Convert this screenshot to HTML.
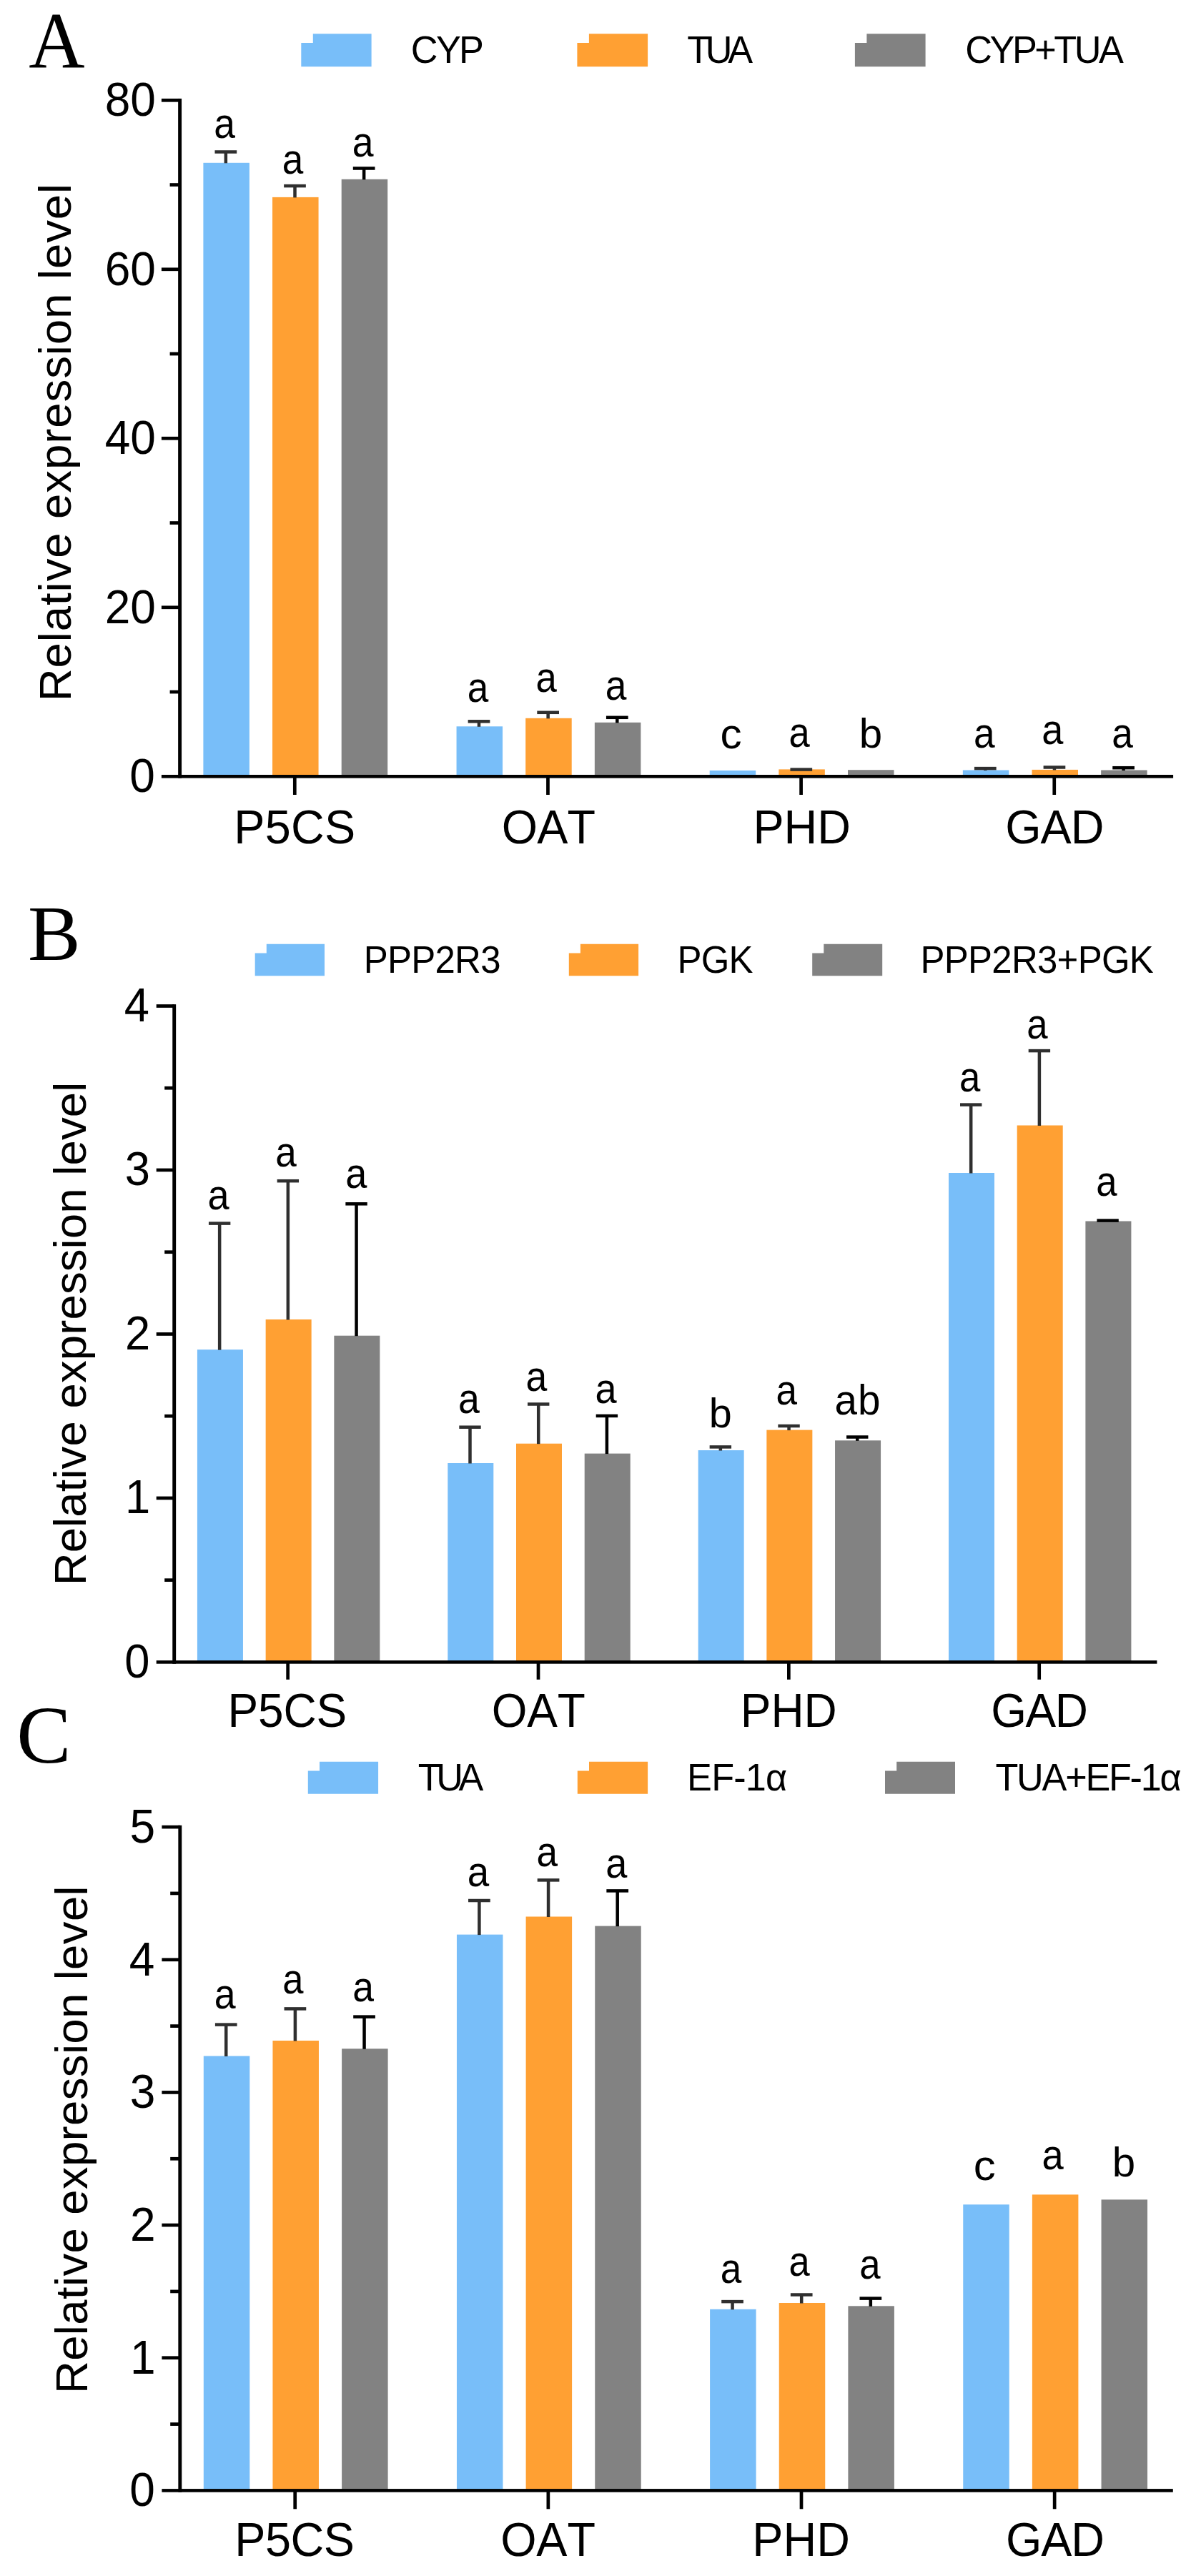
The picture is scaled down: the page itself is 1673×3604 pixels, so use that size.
<!DOCTYPE html>
<html lang="en"><head><meta charset="utf-8"><title>Relative expression level</title>
<style>
html,body{margin:0;padding:0;background:#fff}
svg{display:block}
text{fill:#000;font-kerning:none}
.sans{font-family:"Liberation Sans",Arial,Helvetica,sans-serif}
.serif{font-family:"Liberation Serif","Times New Roman",Times,serif}
</style></head><body>
<svg width="1673" height="3604" viewBox="0 0 1673 3604" shape-rendering="geometricPrecision">
<rect width="1673" height="3604" fill="#fff"/>
<rect x="284.40" y="227.80" width="64.50" height="858.50" fill="#78bef9"/>
<rect x="313.60" y="212.50" width="4.50" height="15.80" fill="#2f2f2f"/>
<rect x="300.50" y="210.25" width="30.70" height="4.50" fill="#2f2f2f"/>
<rect x="381.05" y="275.90" width="64.50" height="810.40" fill="#ffa033"/>
<rect x="410.25" y="260.10" width="4.50" height="16.30" fill="#2f2f2f"/>
<rect x="397.15" y="257.85" width="30.70" height="4.50" fill="#2f2f2f"/>
<rect x="477.70" y="250.80" width="64.50" height="835.50" fill="#828282"/>
<rect x="506.90" y="235.50" width="4.50" height="15.80" fill="#000"/>
<rect x="493.80" y="233.25" width="30.70" height="4.50" fill="#000"/>
<rect x="638.55" y="1016.30" width="64.50" height="70.00" fill="#78bef9"/>
<rect x="667.75" y="1009.30" width="4.50" height="7.50" fill="#2f2f2f"/>
<rect x="654.65" y="1007.05" width="30.70" height="4.50" fill="#2f2f2f"/>
<rect x="735.20" y="1004.80" width="64.50" height="81.50" fill="#ffa033"/>
<rect x="764.40" y="996.80" width="4.50" height="8.50" fill="#2f2f2f"/>
<rect x="751.30" y="994.55" width="30.70" height="4.50" fill="#2f2f2f"/>
<rect x="831.85" y="1010.80" width="64.50" height="75.50" fill="#828282"/>
<rect x="861.05" y="1003.80" width="4.50" height="7.50" fill="#000"/>
<rect x="847.95" y="1001.55" width="30.70" height="4.50" fill="#000"/>
<rect x="992.70" y="1078.00" width="64.50" height="8.30" fill="#78bef9"/>
<rect x="1089.35" y="1076.40" width="64.50" height="9.90" fill="#ffa033"/>
<rect x="1105.45" y="1074.35" width="30.70" height="4.50" fill="#2f2f2f"/>
<rect x="1186.00" y="1077.20" width="64.50" height="9.10" fill="#828282"/>
<rect x="1346.85" y="1077.50" width="64.50" height="8.80" fill="#78bef9"/>
<rect x="1376.05" y="1075.10" width="4.50" height="2.90" fill="#2f2f2f"/>
<rect x="1362.95" y="1072.85" width="30.70" height="4.50" fill="#2f2f2f"/>
<rect x="1443.50" y="1076.90" width="64.50" height="9.40" fill="#ffa033"/>
<rect x="1472.70" y="1073.50" width="4.50" height="3.90" fill="#2f2f2f"/>
<rect x="1459.60" y="1071.25" width="30.70" height="4.50" fill="#2f2f2f"/>
<rect x="1540.15" y="1077.50" width="64.50" height="8.80" fill="#828282"/>
<rect x="1569.35" y="1074.20" width="4.50" height="3.80" fill="#000"/>
<rect x="1556.25" y="1071.95" width="30.70" height="4.50" fill="#000"/>
<rect x="249.15" y="137.95" width="4.90" height="950.70" fill="#000"/>
<rect x="225.90" y="1084.00" width="1415.20" height="4.60" fill="#000"/>
<text class="sans" transform="translate(181.16,1108.40) scale(0.9550,1)" font-size="67.10">0</text>
<rect x="237.60" y="965.70" width="14.00" height="4.70" fill="#000"/>
<rect x="225.90" y="847.45" width="25.70" height="4.70" fill="#000"/>
<text class="sans" transform="translate(146.63,871.90) scale(0.9550,1)" font-size="67.10">20</text>
<rect x="237.60" y="729.20" width="14.00" height="4.70" fill="#000"/>
<rect x="225.90" y="610.95" width="25.70" height="4.70" fill="#000"/>
<text class="sans" transform="translate(146.63,635.40) scale(0.9550,1)" font-size="67.10">40</text>
<rect x="237.60" y="492.70" width="14.00" height="4.70" fill="#000"/>
<rect x="225.90" y="374.45" width="25.70" height="4.70" fill="#000"/>
<text class="sans" transform="translate(146.63,398.90) scale(0.9550,1)" font-size="67.10">60</text>
<rect x="237.60" y="256.20" width="14.00" height="4.70" fill="#000"/>
<rect x="225.90" y="137.95" width="25.70" height="4.70" fill="#000"/>
<text class="sans" transform="translate(146.63,162.40) scale(0.9550,1)" font-size="67.10">80</text>
<rect x="409.95" y="1086.30" width="4.70" height="25.70" fill="#000"/>
<rect x="764.10" y="1086.30" width="4.70" height="25.70" fill="#000"/>
<rect x="1118.25" y="1086.30" width="4.70" height="25.70" fill="#000"/>
<rect x="1472.40" y="1086.30" width="4.70" height="25.70" fill="#000"/>
<text class="sans" transform="translate(327.29,1180.20) scale(0.9600,1)" font-size="67.40" letter-spacing="0.295">P5CS</text>
<text class="sans" transform="translate(701.64,1180.20) scale(0.9600,1)" font-size="67.40" letter-spacing="-0.813">OAT</text>
<text class="sans" transform="translate(1053.39,1180.20) scale(0.9600,1)" font-size="67.40" letter-spacing="-0.004">PHD</text>
<text class="sans" transform="translate(1406.15,1180.20) scale(0.9600,1)" font-size="67.40" letter-spacing="-0.970">GAD</text>
<text class="sans" transform="translate(299.23,193.20) scale(0.9074,1)" font-size="59.00">a</text>
<text class="sans" transform="translate(394.74,243.00) scale(0.9008,1)" font-size="59.00">a</text>
<text class="sans" transform="translate(492.73,218.60) scale(0.9074,1)" font-size="59.00">a</text>
<text class="sans" transform="translate(653.64,982.00) scale(0.9008,1)" font-size="59.00">a</text>
<text class="sans" transform="translate(749.46,967.70) scale(0.8942,1)" font-size="59.00">a</text>
<text class="sans" transform="translate(846.73,978.70) scale(0.9041,1)" font-size="59.00">a</text>
<text class="sans" transform="translate(1007.54,1046.70) scale(1.0221,1)" font-size="59.00">c</text>
<text class="sans" transform="translate(1103.47,1045.00) scale(0.8909,1)" font-size="59.00">a</text>
<text class="sans" transform="translate(1201.74,1045.60) scale(0.9875,0.965)" font-size="59.00">b</text>
<text class="sans" transform="translate(1362.03,1045.50) scale(0.9041,1)" font-size="59.00">a</text>
<text class="sans" transform="translate(1457.30,1040.80) scale(0.9173,1)" font-size="59.00">a</text>
<text class="sans" transform="translate(1555.33,1045.50) scale(0.9041,1)" font-size="59.00">a</text>
<path d="M421.30 60.10H437.80V47.30H519.60V93.20H421.30Z" fill="#78bef9"/>
<path d="M807.40 60.10H823.90V47.30H906.10V93.20H807.40Z" fill="#ffa033"/>
<path d="M1195.90 60.10H1212.40V47.30H1294.60V93.20H1195.90Z" fill="#828282"/>
<text class="sans" transform="translate(574.85,88.00) scale(0.9600,1)" font-size="54.40" letter-spacing="-2.747">CYP</text>
<text class="sans" transform="translate(961.23,88.00) scale(0.9600,1)" font-size="54.40" letter-spacing="-6.548">TUA</text>
<text class="sans" transform="translate(1350.35,88.00) scale(0.9600,1)" font-size="54.40" letter-spacing="-3.606">CYP+TUA</text>
<text class="sans" transform="translate(99.20,981.21) rotate(-90) scale(1.0000,1)" font-size="63.50" letter-spacing="0.916">Relative expression level</text>
<text class="serif" transform="translate(40.24,95.45) scale(0.9687,1)" font-size="112.00">A</text>
<rect x="275.95" y="1888.20" width="64.00" height="437.20" fill="#78bef9"/>
<rect x="304.90" y="1711.60" width="4.50" height="177.10" fill="#2f2f2f"/>
<rect x="291.95" y="1709.35" width="30.40" height="4.50" fill="#2f2f2f"/>
<rect x="371.65" y="1846.00" width="64.00" height="479.40" fill="#ffa033"/>
<rect x="400.60" y="1652.20" width="4.50" height="194.30" fill="#2f2f2f"/>
<rect x="387.65" y="1649.95" width="30.40" height="4.50" fill="#2f2f2f"/>
<rect x="467.35" y="1868.70" width="64.00" height="456.70" fill="#828282"/>
<rect x="496.30" y="1684.30" width="4.50" height="184.90" fill="#000"/>
<rect x="483.35" y="1682.05" width="30.40" height="4.50" fill="#000"/>
<rect x="626.30" y="2047.00" width="64.00" height="278.40" fill="#78bef9"/>
<rect x="655.25" y="1996.70" width="4.50" height="50.80" fill="#2f2f2f"/>
<rect x="642.30" y="1994.45" width="30.40" height="4.50" fill="#2f2f2f"/>
<rect x="722.00" y="2019.70" width="64.00" height="305.70" fill="#ffa033"/>
<rect x="750.95" y="1964.50" width="4.50" height="55.70" fill="#2f2f2f"/>
<rect x="738.00" y="1962.25" width="30.40" height="4.50" fill="#2f2f2f"/>
<rect x="817.70" y="2033.60" width="64.00" height="291.80" fill="#828282"/>
<rect x="846.65" y="1980.90" width="4.50" height="53.20" fill="#000"/>
<rect x="833.70" y="1978.65" width="30.40" height="4.50" fill="#000"/>
<rect x="976.65" y="2029.00" width="64.00" height="296.40" fill="#78bef9"/>
<rect x="1005.60" y="2024.40" width="4.50" height="5.10" fill="#2f2f2f"/>
<rect x="992.65" y="2022.15" width="30.40" height="4.50" fill="#2f2f2f"/>
<rect x="1072.35" y="2000.60" width="64.00" height="324.80" fill="#ffa033"/>
<rect x="1101.30" y="1995.00" width="4.50" height="6.10" fill="#2f2f2f"/>
<rect x="1088.35" y="1992.75" width="30.40" height="4.50" fill="#2f2f2f"/>
<rect x="1168.05" y="2015.30" width="64.00" height="310.10" fill="#828282"/>
<rect x="1197.00" y="2010.50" width="4.50" height="5.30" fill="#000"/>
<rect x="1184.05" y="2008.25" width="30.40" height="4.50" fill="#000"/>
<rect x="1327.00" y="1641.00" width="64.00" height="684.40" fill="#78bef9"/>
<rect x="1355.95" y="1545.60" width="4.50" height="95.90" fill="#2f2f2f"/>
<rect x="1343.00" y="1543.35" width="30.40" height="4.50" fill="#2f2f2f"/>
<rect x="1422.70" y="1574.50" width="64.00" height="750.90" fill="#ffa033"/>
<rect x="1451.65" y="1470.10" width="4.50" height="104.90" fill="#2f2f2f"/>
<rect x="1438.70" y="1467.85" width="30.40" height="4.50" fill="#2f2f2f"/>
<rect x="1518.40" y="1708.50" width="64.00" height="616.90" fill="#828282"/>
<rect x="1534.40" y="1705.35" width="30.40" height="4.50" fill="#000"/>
<rect x="241.25" y="1405.15" width="4.90" height="922.60" fill="#000"/>
<rect x="218.70" y="2323.10" width="1399.70" height="4.60" fill="#000"/>
<text class="sans" transform="translate(174.36,2346.70) scale(0.9550,1)" font-size="66.30">0</text>
<rect x="230.20" y="2208.31" width="13.50" height="4.70" fill="#000"/>
<rect x="218.70" y="2093.58" width="25.00" height="4.70" fill="#000"/>
<text class="sans" transform="translate(174.98,2117.23) scale(0.9550,1)" font-size="66.30">1</text>
<rect x="230.20" y="1978.84" width="13.50" height="4.70" fill="#000"/>
<rect x="218.70" y="1864.10" width="25.00" height="4.70" fill="#000"/>
<text class="sans" transform="translate(175.07,1887.75) scale(0.9550,1)" font-size="66.30">2</text>
<rect x="230.20" y="1749.36" width="13.50" height="4.70" fill="#000"/>
<rect x="218.70" y="1634.62" width="25.00" height="4.70" fill="#000"/>
<text class="sans" transform="translate(174.67,1658.27) scale(0.9550,1)" font-size="66.30">3</text>
<rect x="230.20" y="1519.89" width="13.50" height="4.70" fill="#000"/>
<rect x="218.70" y="1405.15" width="25.00" height="4.70" fill="#000"/>
<text class="sans" transform="translate(173.74,1428.80) scale(0.9550,1)" font-size="66.30">4</text>
<rect x="400.30" y="2325.40" width="4.70" height="24.40" fill="#000"/>
<rect x="750.65" y="2325.40" width="4.70" height="24.40" fill="#000"/>
<rect x="1101.00" y="2325.40" width="4.70" height="24.40" fill="#000"/>
<rect x="1451.35" y="2325.40" width="4.70" height="24.40" fill="#000"/>
<text class="sans" transform="translate(318.56,2416.30) scale(0.9600,1)" font-size="66.60" letter-spacing="-0.118">P5CS</text>
<text class="sans" transform="translate(687.87,2416.30) scale(0.9600,1)" font-size="66.60" letter-spacing="-0.227">OAT</text>
<text class="sans" transform="translate(1035.86,2416.30) scale(0.9600,1)" font-size="66.60" letter-spacing="-0.045">PHD</text>
<text class="sans" transform="translate(1386.18,2416.30) scale(0.9600,1)" font-size="66.60" letter-spacing="-1.497">GAD</text>
<text class="sans" transform="translate(290.50,1691.50) scale(0.9173,1)" font-size="59.00">a</text>
<text class="sans" transform="translate(385.24,1632.10) scale(0.9008,1)" font-size="59.00">a</text>
<text class="sans" transform="translate(483.20,1662.10) scale(0.9173,1)" font-size="59.00">a</text>
<text class="sans" transform="translate(641.02,1977.40) scale(0.9107,1)" font-size="59.00">a</text>
<text class="sans" transform="translate(735.53,1945.50) scale(0.9074,1)" font-size="59.00">a</text>
<text class="sans" transform="translate(832.60,1962.90) scale(0.9173,1)" font-size="59.00">a</text>
<text class="sans" transform="translate(991.79,1997.40) scale(0.9762,0.965)" font-size="59.00">b</text>
<text class="sans" transform="translate(1085.54,1965.20) scale(0.9008,1)" font-size="59.00">a</text>
<text class="sans" transform="translate(1167.49,1978.60) scale(0.9600,1)" font-size="59.00" letter-spacing="1.025">ab</text>
<text class="sans" transform="translate(1341.96,1526.60) scale(0.8942,1)" font-size="59.00">a</text>
<text class="sans" transform="translate(1436.26,1453.10) scale(0.8942,1)" font-size="59.00">a</text>
<text class="sans" transform="translate(1533.16,1673.40) scale(0.8942,1)" font-size="59.00">a</text>
<path d="M356.70 1333.40H372.80V1320.70H454.00V1365.20H356.70Z" fill="#78bef9"/>
<path d="M795.80 1333.40H811.90V1320.70H893.10V1365.20H795.80Z" fill="#ffa033"/>
<path d="M1136.20 1333.40H1152.30V1320.70H1234.20V1365.20H1136.20Z" fill="#828282"/>
<text class="sans" transform="translate(508.82,1360.50) scale(0.9600,1)" font-size="53.10" letter-spacing="-0.790">PPP2R3</text>
<text class="sans" transform="translate(947.62,1360.50) scale(0.9600,1)" font-size="53.10" letter-spacing="-0.884">PGK</text>
<text class="sans" transform="translate(1287.62,1360.50) scale(0.9600,1)" font-size="53.10" letter-spacing="-0.773">PPP2R3+PGK</text>
<text class="sans" transform="translate(120.40,2218.31) rotate(-90) scale(1.0000,1)" font-size="63.50" letter-spacing="0.095">Relative expression level</text>
<text class="serif" transform="translate(38.92,1342.90) scale(1.0091,1)" font-size="109.30">B</text>
<rect x="284.80" y="2876.50" width="64.50" height="607.90" fill="#78bef9"/>
<rect x="314.00" y="2832.60" width="4.50" height="44.40" fill="#2f2f2f"/>
<rect x="300.90" y="2830.35" width="30.70" height="4.50" fill="#2f2f2f"/>
<rect x="381.45" y="2855.00" width="64.50" height="629.40" fill="#ffa033"/>
<rect x="410.65" y="2810.40" width="4.50" height="45.10" fill="#2f2f2f"/>
<rect x="397.55" y="2808.15" width="30.70" height="4.50" fill="#2f2f2f"/>
<rect x="478.10" y="2866.30" width="64.50" height="618.10" fill="#828282"/>
<rect x="507.30" y="2821.60" width="4.50" height="45.20" fill="#000"/>
<rect x="494.20" y="2819.35" width="30.70" height="4.50" fill="#000"/>
<rect x="638.95" y="2706.60" width="64.50" height="777.80" fill="#78bef9"/>
<rect x="668.15" y="2659.00" width="4.50" height="48.10" fill="#2f2f2f"/>
<rect x="655.05" y="2656.75" width="30.70" height="4.50" fill="#2f2f2f"/>
<rect x="735.60" y="2681.50" width="64.50" height="802.90" fill="#ffa033"/>
<rect x="764.80" y="2630.40" width="4.50" height="51.60" fill="#2f2f2f"/>
<rect x="751.70" y="2628.15" width="30.70" height="4.50" fill="#2f2f2f"/>
<rect x="832.25" y="2694.60" width="64.50" height="789.80" fill="#828282"/>
<rect x="861.45" y="2645.40" width="4.50" height="49.70" fill="#000"/>
<rect x="848.35" y="2643.15" width="30.70" height="4.50" fill="#000"/>
<rect x="993.10" y="3230.80" width="64.50" height="253.60" fill="#78bef9"/>
<rect x="1022.30" y="3220.10" width="4.50" height="11.20" fill="#2f2f2f"/>
<rect x="1009.20" y="3217.85" width="30.70" height="4.50" fill="#2f2f2f"/>
<rect x="1089.75" y="3222.00" width="64.50" height="262.40" fill="#ffa033"/>
<rect x="1118.95" y="3210.50" width="4.50" height="12.00" fill="#2f2f2f"/>
<rect x="1105.85" y="3208.25" width="30.70" height="4.50" fill="#2f2f2f"/>
<rect x="1186.40" y="3226.30" width="64.50" height="258.10" fill="#828282"/>
<rect x="1215.60" y="3215.60" width="4.50" height="11.20" fill="#000"/>
<rect x="1202.50" y="3213.35" width="30.70" height="4.50" fill="#000"/>
<rect x="1347.25" y="3084.30" width="64.50" height="400.10" fill="#78bef9"/>
<rect x="1443.90" y="3070.40" width="64.50" height="414.00" fill="#ffa033"/>
<rect x="1540.55" y="3077.40" width="64.50" height="407.00" fill="#828282"/>
<rect x="249.35" y="2553.75" width="4.90" height="933.00" fill="#000"/>
<rect x="226.40" y="3482.10" width="1414.40" height="4.60" fill="#000"/>
<text class="sans" transform="translate(181.36,3506.30) scale(0.9550,1)" font-size="67.10">0</text>
<rect x="238.20" y="3389.22" width="13.60" height="4.70" fill="#000"/>
<rect x="226.40" y="3296.39" width="25.40" height="4.70" fill="#000"/>
<text class="sans" transform="translate(181.99,3320.64) scale(0.9550,1)" font-size="67.10">1</text>
<rect x="238.20" y="3203.56" width="13.60" height="4.70" fill="#000"/>
<rect x="226.40" y="3110.73" width="25.40" height="4.70" fill="#000"/>
<text class="sans" transform="translate(182.08,3134.98) scale(0.9550,1)" font-size="67.10">2</text>
<rect x="238.20" y="3017.90" width="13.60" height="4.70" fill="#000"/>
<rect x="226.40" y="2925.07" width="25.40" height="4.70" fill="#000"/>
<text class="sans" transform="translate(181.68,2949.32) scale(0.9550,1)" font-size="67.10">3</text>
<rect x="238.20" y="2832.24" width="13.60" height="4.70" fill="#000"/>
<rect x="226.40" y="2739.41" width="25.40" height="4.70" fill="#000"/>
<text class="sans" transform="translate(180.74,2763.66) scale(0.9550,1)" font-size="67.10">4</text>
<rect x="238.20" y="2646.58" width="13.60" height="4.70" fill="#000"/>
<rect x="226.40" y="2553.75" width="25.40" height="4.70" fill="#000"/>
<text class="sans" transform="translate(181.55,2578.00) scale(0.9550,1)" font-size="67.10">5</text>
<rect x="410.35" y="3484.40" width="4.70" height="25.90" fill="#000"/>
<rect x="764.50" y="3484.40" width="4.70" height="25.90" fill="#000"/>
<rect x="1118.65" y="3484.40" width="4.70" height="25.90" fill="#000"/>
<rect x="1472.80" y="3484.40" width="4.70" height="25.90" fill="#000"/>
<text class="sans" transform="translate(328.19,3576.20) scale(0.9600,1)" font-size="67.40" letter-spacing="-0.399">P5CS</text>
<text class="sans" transform="translate(700.14,3576.20) scale(0.9600,1)" font-size="67.40" letter-spacing="-0.083">OAT</text>
<text class="sans" transform="translate(1052.29,3576.20) scale(0.9600,1)" font-size="67.40" letter-spacing="0.048">PHD</text>
<text class="sans" transform="translate(1406.95,3576.20) scale(0.9600,1)" font-size="67.40" letter-spacing="-1.074">GAD</text>
<text class="sans" transform="translate(299.72,2809.50) scale(0.9107,1)" font-size="59.00">a</text>
<text class="sans" transform="translate(395.27,2789.20) scale(0.8909,1)" font-size="59.00">a</text>
<text class="sans" transform="translate(493.23,2799.90) scale(0.9074,1)" font-size="59.00">a</text>
<text class="sans" transform="translate(653.78,2639.40) scale(0.9272,1)" font-size="59.00">a</text>
<text class="sans" transform="translate(750.44,2611.30) scale(0.9008,1)" font-size="59.00">a</text>
<text class="sans" transform="translate(847.30,2627.40) scale(0.9173,1)" font-size="59.00">a</text>
<text class="sans" transform="translate(1007.84,3193.60) scale(0.9008,1)" font-size="59.00">a</text>
<text class="sans" transform="translate(1103.47,3184.20) scale(0.8909,1)" font-size="59.00">a</text>
<text class="sans" transform="translate(1202.36,3188.30) scale(0.8942,1)" font-size="59.00">a</text>
<text class="sans" transform="translate(1361.76,3049.50) scale(1.0535,1)" font-size="59.00">c</text>
<text class="sans" transform="translate(1457.59,3034.80) scale(0.9206,1)" font-size="59.00">a</text>
<text class="sans" transform="translate(1555.74,3044.70) scale(0.9875,0.965)" font-size="59.00">b</text>
<path d="M430.80 2477.50H447.00V2464.80H529.10V2509.70H430.80Z" fill="#78bef9"/>
<path d="M807.80 2477.50H824.00V2464.80H906.10V2509.70H807.80Z" fill="#ffa033"/>
<path d="M1238.00 2477.50H1254.20V2464.80H1336.00V2509.70H1238.00Z" fill="#828282"/>
<text class="sans" transform="translate(584.63,2505.00) scale(0.9600,1)" font-size="54.40" letter-spacing="-6.601">TUA</text>
<text class="sans" transform="translate(961.12,2505.00) scale(0.9600,1)" font-size="54.40" letter-spacing="-0.826">EF-1α</text>
<text class="sans" transform="translate(1392.43,2505.00) scale(0.9600,1)" font-size="54.40" letter-spacing="-2.335">TUA+EF-1α</text>
<text class="sans" transform="translate(121.90,3349.01) rotate(-90) scale(1.0000,1)" font-size="63.50" letter-spacing="0.345">Relative expression level</text>
<text class="serif" transform="translate(23.31,2465.90) scale(1.0082,1)" font-size="113.30">C</text>
</svg>
</body></html>
